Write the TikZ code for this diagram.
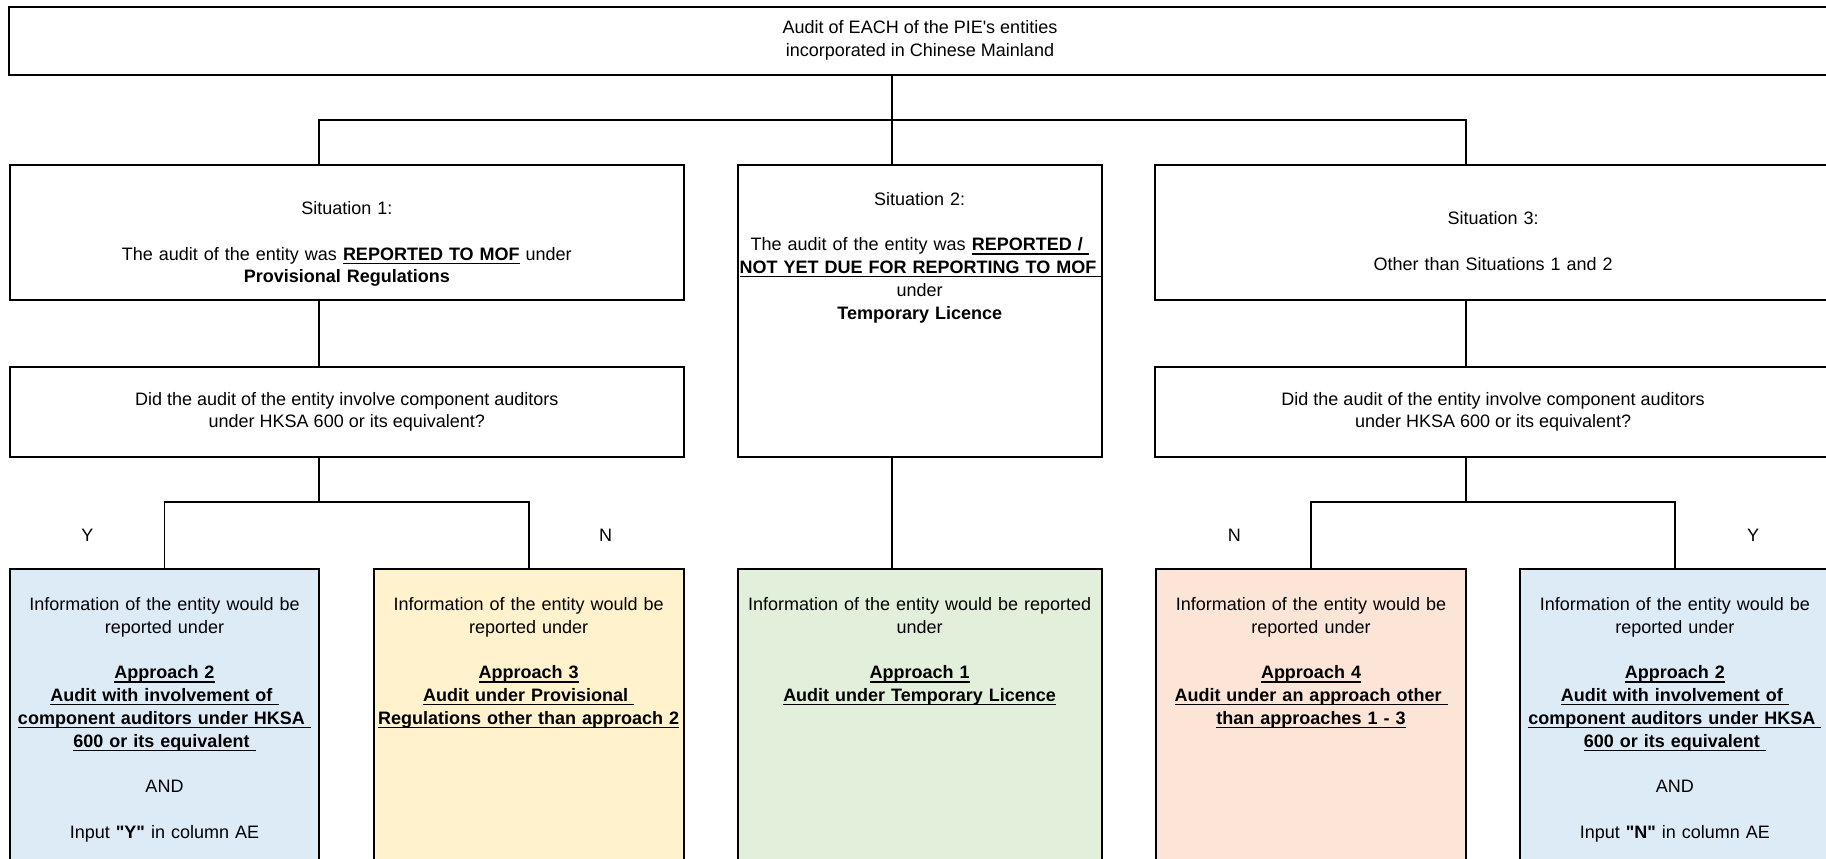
\documentclass[tikz,border=0pt]{standalone}
\usepackage{fontspec}
\newfontfamily\xlfont{Liberation Sans}
\usetikzlibrary{positioning}
\definecolor{appblue}{HTML}{DDEBF7}
\definecolor{appyellow}{HTML}{FFF2CC}
\definecolor{appgreen}{HTML}{E2EFDA}
\definecolor{apporange}{HTML}{FCE4D6}
\newsavebox\xlulbox
\newcommand{\xlul}[1]{\leavevmode\sbox\xlulbox{\textbf{#1}}\rlap{\rule[-2pt]{\wd\xlulbox}{0.65pt}}\usebox\xlulbox}

\begin{document}
\begin{tikzpicture}[x=1pt, y=-1pt, font=\xlfont\fontsize{9}{11.4}\selectfont, box/.style={draw, line width=1pt, inner sep=0pt, align=center}, txt/.style={inner sep=0pt, align=center}, wire/.style={line width=0.85pt}]
		\useasboundingbox (0,0) rectangle (913,429);
		\clip (0,0) rectangle (913,429);
		\node[box, minimum width=911pt, minimum height=34pt] (top) at (460,20.35) {Audit of EACH of the PIE's entities\\incorporated in Chinese Mainland};
		\node[box, minimum width=336.8pt, minimum height=67.5pt] (sit1) at (173.4,116.1) {};
		\node[box, minimum width=182pt, minimum height=146pt] (sit2) at (459.85,155.35) {};
		\node[box, minimum width=337.9pt, minimum height=67.5pt] (sit3) at (746.55,116.1) {};
		\node[box, minimum width=336.8pt, minimum height=44.85pt] (ask1) at (173.4,205.9) {Did the audit of the entity involve component auditors\\under HKSA 600 or its equivalent?};
		\node[box, minimum width=337.9pt, minimum height=44.85pt] (ask3) at (746.55,205.9) {Did the audit of the entity involve component auditors\\under HKSA 600 or its equivalent?};
		\node[box, fill=appblue, minimum width=154.5pt, minimum height=165.5pt] (app1) at (82.25,367.25) {};
		\node[box, fill=appyellow, minimum width=154.9pt, minimum height=165.5pt] (app2) at (264.35,367.25) {};
		\node[box, fill=appgreen, minimum width=182pt, minimum height=165.5pt] (app3) at (459.8,367.25) {};
		\node[box, fill=apporange, minimum width=155.45pt, minimum height=165.5pt] (app4) at (655.5,367.25) {};
		\node[box, fill=appblue, minimum width=155.1pt, minimum height=165.5pt] (app5) at (837.45,367.25) {};
		\node[txt, text width=334pt] (sit1t) [below=18.65pt of sit1.north] {Situation 1:\\[11.4pt]The audit of the entity was \xlul{REPORTED TO MOF} under\\\textbf{Provisional Regulations}};
		\node[txt, text width=180pt] (sit2t) [below=13.95pt of sit2.north] {Situation 2:\\[11.4pt]The audit of the entity was \xlul{REPORTED / }\\\xlul{NOT YET DUE FOR REPORTING TO MOF }\\under\\\textbf{Temporary Licence}};
		\node[txt, text width=335pt] (sit3t) [below=23.9pt of sit3.north] {Situation 3:\\[11.4pt]Other than Situations 1 and 2};
		\node[txt, text width=152.5pt] (app1t) [below=14.4pt of app1.north] {Information of the entity would be\\reported under\\[11.4pt]\xlul{Approach 2}\\\xlul{Audit with involvement of }\\\xlul{component auditors under HKSA }\\\xlul{600 or its equivalent }\\[11.4pt]AND\\[11.4pt]Input \textbf{"Y"} in column AE};
		\node[txt, text width=153pt] (app2t) [below=14.4pt of app2.north] {Information of the entity would be\\reported under\\[11.4pt]\xlul{Approach 3}\\\xlul{Audit under Provisional }\\\xlul{Regulations other than approach 2}};
		\node[txt, text width=180pt] (app3t) [below=14.4pt of app3.north] {Information of the entity would be reported\\under\\[11.4pt]\xlul{Approach 1}\\\xlul{Audit under Temporary Licence}};
		\node[txt, text width=153pt] (app4t) [below=14.4pt of app4.north] {Information of the entity would be\\reported under\\[11.4pt]\xlul{Approach 4}\\\xlul{Audit under an approach other }\\\xlul{than approaches 1 - 3}};
		\node[txt, text width=153pt] (app5t) [below=14.4pt of app5.north] {Information of the entity would be\\reported under\\[11.4pt]\xlul{Approach 2}\\\xlul{Audit with involvement of }\\\xlul{component auditors under HKSA }\\\xlul{600 or its equivalent }\\[11.4pt]AND\\[11.4pt]Input \textbf{"N"} in column AE};
		\node[txt, anchor=base] (y1) at (43.65,270.85) {Y};
		\node[txt, anchor=base] (n1) at (302.8,270.85) {N};
		\node[txt, anchor=base] (n3) at (617.2,270.85) {N};
		\node[txt, anchor=base] (y3) at (876.5,270.85) {Y};
		\coordinate (bus) at (446,60);
		\coordinate (split1) at (159.5,251);
		\coordinate (split3) at (733,251);
		\draw[wire] (top.south -| bus) -- (bus) -- (sit2.north -| bus);
		\draw[wire] (sit1.north -| split1) |- (bus) -| (sit3.north -| split3);
		\draw[wire] (sit1.south -| split1) -- (ask1.north -| split1);
		\draw[wire] (sit3.south -| split3) -- (ask3.north -| split3);
		\draw[wire] (ask1.south -| split1) -- (split1);
		\draw[wire] (app1.north) |- (split1) -| (app2.north);
		\draw[wire] (ask3.south -| split3) -- (split3);
		\draw[wire] (app4.north) |- (split3) -| (app5.north);
		\draw[wire] (sit2.south -| bus) -- (app3.north -| bus);
\end{tikzpicture}
\end{document}
